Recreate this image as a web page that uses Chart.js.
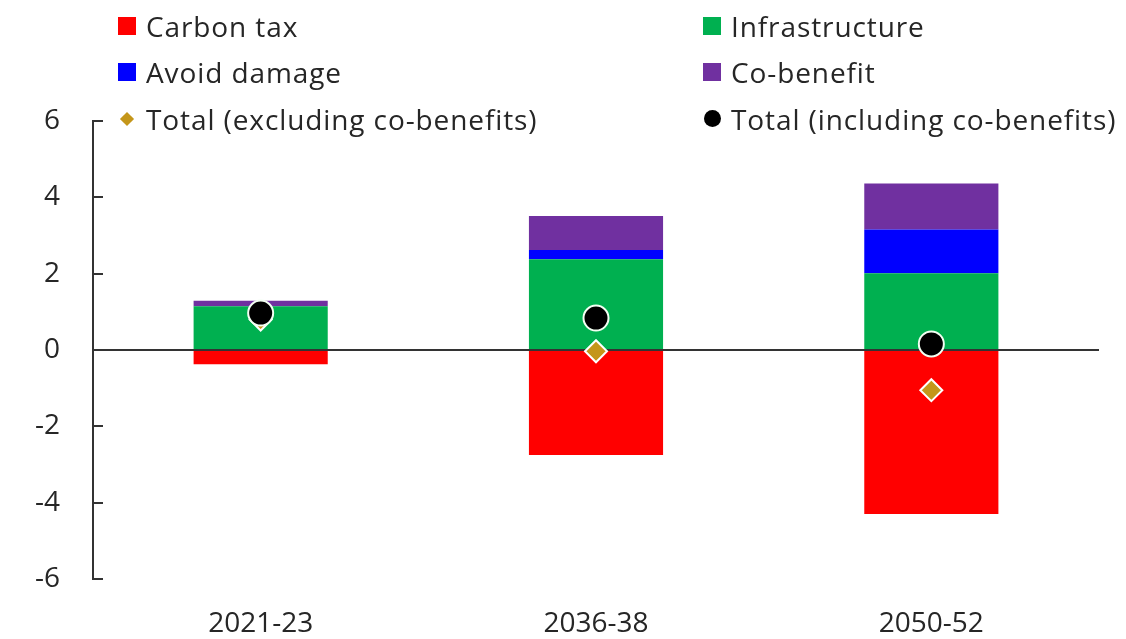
<!DOCTYPE html>
<html>
<head>
<meta charset="utf-8">
<script src="https://cdn.jsdelivr.net/npm/chart.js@4/dist/chart.umd.min.js"></script>
<style>
  html, body { margin: 0; padding: 0; background: #fff; }
  #wrap { position: relative; width: 1126px; height: 639px; }
  #legend { position: absolute; left: 0; top: 0; width: 1126px; height: 140px; pointer-events: none; }
  .item { position: absolute; display: flex; align-items: center; height: 34px;
          font-family: "Open Sans", sans-serif; font-size: 28px; letter-spacing: 0.9px;
          color: #262626; white-space: nowrap; }
  .mk { width: 18px; height: 18px; margin-right: 10px; display: flex; align-items: center; justify-content: center; }
</style>
</head>
<body>
<div id="wrap">
  <canvas id="c" width="1126" height="639"></canvas>
  <div id="legend"></div>
</div>
<script>
// Fiscal effects by period (% of GDP)
const categories = ['2021-23', '2036-38', '2050-52'];
const carbonTax = [-0.37, -2.75, -4.29];
const infrastructure = [1.15, 2.38, 2.01];
const avoidDamage = [0, 0.24, 1.15];
const coBenefit = [0.14, 0.89, 1.20];
const totalExcl = [0.80, -0.03, -1.05];
const totalIncl = [0.97, 0.84, 0.16];

const TEXT = '#262626';
const AXIS = '#333333';
const FONT = '"Open Sans", sans-serif';

function barSet(label, data, color) {
  return { type: 'bar', label, data, backgroundColor: color, borderWidth: 0,
           barPercentage: 0.4, categoryPercentage: 1.0, order: 2, stack: 'parts',
           legendMark: { shape: 'square', color } };
}

const datasets = [
  barSet('Carbon tax', carbonTax, '#FF0000'),
  barSet('Infrastructure', infrastructure, '#00B050'),
  barSet('Avoid damage', avoidDamage, '#0000FF'),
  barSet('Co-benefit', coBenefit, '#7030A0'),
  { type: 'line', label: 'Total (excluding co-benefits)', data: totalExcl, showLine: false,
    stack: 'excl', order: 1, pointStyle: 'rectRot', pointRadius: 11, pointHoverRadius: 11,
    pointBackgroundColor: '#C4961A', pointBorderColor: '#FFFFFF', pointBorderWidth: 2,
    legendMark: { shape: 'diamond', color: '#C4961A' } },
  { type: 'line', label: 'Total (including co-benefits)', data: totalIncl, showLine: false,
    stack: 'incl', order: 0, pointStyle: 'circle', pointRadius: 12.5, pointHoverRadius: 12.5,
    pointBackgroundColor: '#000000', pointBorderColor: '#F2FFF2', pointBorderWidth: 2,
    legendMark: { shape: 'circle', color: '#000000' } }
];

const chart = new Chart(document.getElementById('c'), {
  data: { labels: categories, datasets },
  options: {
    responsive: false,
    animation: false,
    layout: { padding: { top: 121, right: 27, bottom: 0, left: 0 } },
    plugins: { legend: { display: false }, tooltip: { enabled: false } },
    scales: {
      x: {
        stacked: true,
        grid: { display: false },
        border: { display: false },
        ticks: { color: TEXT, font: { family: FONT, size: 28 }, padding: 20, maxRotation: 0 },
        afterFit: s => { s.height = 56; }
      },
      y: {
        stacked: true,
        min: -6, max: 6,
        ticks: { stepSize: 2, color: TEXT, font: { family: FONT, size: 28 }, padding: 43 },
        border: { display: true, color: AXIS, width: 2 },
        grid: {
          drawOnChartArea: true,
          color: c => (c.tick && c.tick.value === 0) ? AXIS : 'rgba(0,0,0,0)',
          lineWidth: 2,
          tickColor: AXIS,
          tickWidth: 2,
          tickLength: -10
        },
        afterFit: s => { s.width = 93; }
      }
    }
  }
});

// Two-column legend built from the chart's datasets
const legend = document.getElementById('legend');
const colX = [118, 703];
const rowY = [25.5, 72, 118.5];
chart.data.datasets.forEach((ds, i) => {
  const item = document.createElement('div');
  item.className = 'item';
  item.style.left = colX[i % 2] + 'px';
  item.style.top = (rowY[Math.floor(i / 2)] - 17) + 'px';
  const mk = document.createElement('div');
  mk.className = 'mk';
  const m = ds.legendMark;
  const shape = document.createElement('div');
  if (m.shape === 'square') {
    shape.style.cssText = `width:18px;height:18px;flex:none;background:${m.color};`;
  } else if (m.shape === 'diamond') {
    shape.style.cssText = `width:10px;height:10px;flex:none;background:${m.color};transform:rotate(45deg);`;
  } else {
    shape.style.cssText = `width:17px;height:17px;flex:none;border-radius:50%;background:${m.color};`;
  }
  mk.appendChild(shape);
  const txt = document.createElement('span');
  txt.textContent = ds.label;
  item.appendChild(mk);
  item.appendChild(txt);
  legend.appendChild(item);
});
</script>
</body>
</html>
